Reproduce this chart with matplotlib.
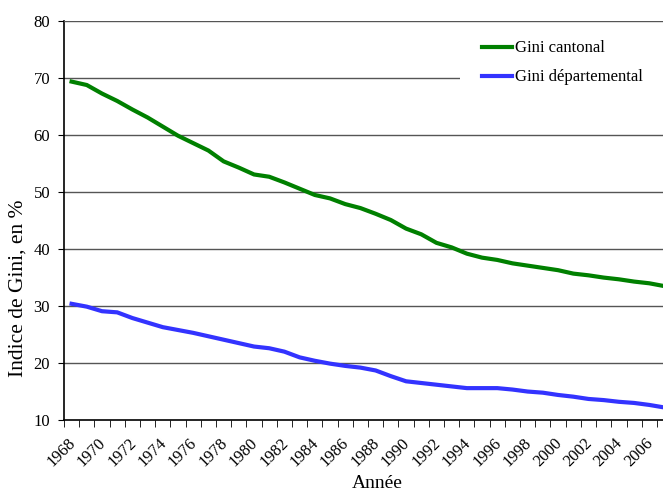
import numpy as np
import matplotlib.pyplot as plt

plt.rcParams['font.family'] = ['Liberation Serif', 'DejaVu Serif']

# Données
annees = np.arange(1968, 2008)
gini_cantonal = [69.4, 68.8, 67.3, 66.0, 64.5, 63.1, 61.5, 59.9, 58.6, 57.3,
                 55.4, 54.3, 53.1, 52.7, 51.7, 50.6, 49.5, 48.9, 47.9, 47.2,
                 46.2, 45.1, 43.6, 42.6, 41.1, 40.3, 39.2, 38.5, 38.1, 37.5,
                 37.1, 36.7, 36.3, 35.7, 35.4, 35.0, 34.7, 34.3, 34.0, 33.5]
gini_departemental = [30.4, 29.9, 29.1, 28.9, 27.9, 27.1, 26.3, 25.8, 25.3, 24.7,
                      24.1, 23.5, 22.9, 22.6, 22.0, 21.0, 20.4, 19.9, 19.5, 19.2,
                      18.7, 17.7, 16.8, 16.5, 16.2, 15.9, 15.6, 15.6, 15.6, 15.35,
                      15.0, 14.8, 14.4, 14.1, 13.7, 13.5, 13.2, 13.0, 12.65, 12.2]
labels_x = [str(a) for a in range(1968, 2008, 2)]

fig = plt.figure(figsize=(6.63, 4.93), dpi=100)
ax = fig.add_axes([0.0965, 0.148, 0.9035, 0.809])

# quadrillage (la ligne du haut passe au-dessus de la légende)
for y in range(20, 80, 10):
    ax.axhline(y, color='#555555', lw=1.0, zorder=1)
ax.axhline(80, color='#555555', lw=1.0, zorder=6)

ax.plot(annees, gini_cantonal, color='#008000', lw=3, label='Gini cantonal', zorder=3)
ax.plot(annees, gini_departemental, color='#3333FF', lw=3, label='Gini départemental', zorder=3)

ax.set_xlim(1967.5, 2006.9)
ax.set_ylim(10, 80)
ax.set_yticks(range(10, 90, 10))
ax.tick_params(axis='y', labelsize=12, length=4, direction='out', pad=6)

ax.set_xticks(np.arange(1967.5, 2007.5, 1.0), minor=True)
ax.set_xticks(np.arange(1968, 2008, 2))
ax.set_xticklabels(labels_x, rotation=45, ha='right', va='center_baseline',
                   rotation_mode='anchor', fontsize=12)
ax.tick_params(axis='x', which='major', length=0, pad=14)
ax.tick_params(axis='x', which='minor', length=5, direction='out')

for s in ['top', 'right']:
    ax.spines[s].set_visible(False)
ax.spines['left'].set_linewidth(1.2)
ax.spines['bottom'].set_linewidth(1.2)

ax.set_xlabel('Année', fontsize=14, va='center')
ax.xaxis.set_label_coords(0.5225, -0.158)
ax.set_ylabel('Indice de Gini, en %', fontsize=15.5)
ax.yaxis.set_label_coords(-0.06, 0.33)

leg = ax.legend(loc='upper left', bbox_to_anchor=(460 / 663, 0.962),
                bbox_transform=fig.transFigure, borderaxespad=0, frameon=True,
                facecolor='white', edgecolor='none', framealpha=1,
                fontsize=12, handlelength=1.8, handletextpad=0.2,
                labelspacing=0.78, borderpad=1.3, fancybox=False)
leg.set_zorder(5)

fig.savefig('out.png', dpi=100)
